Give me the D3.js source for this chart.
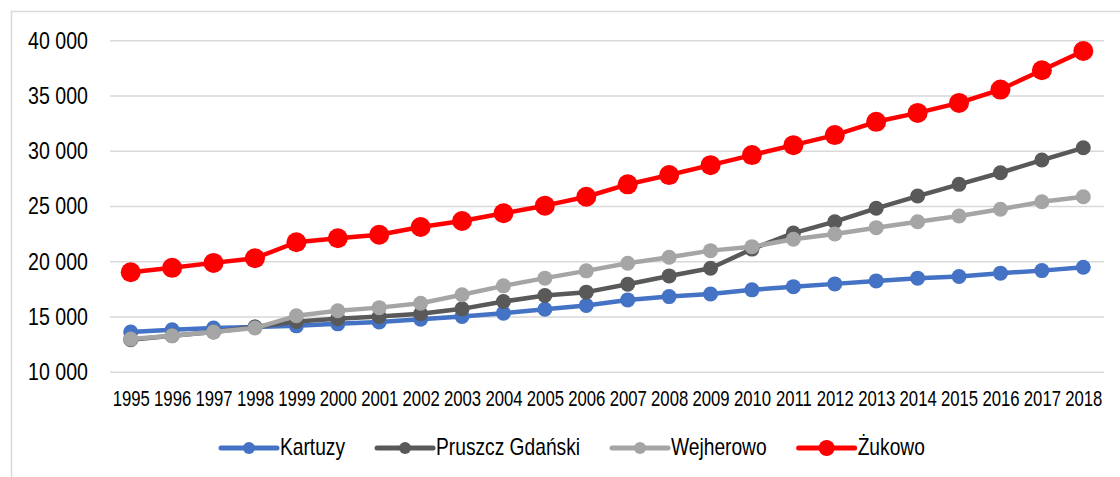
<!DOCTYPE html>
<html>
<head>
<meta charset="utf-8">
<script src="https://cdn.jsdelivr.net/npm/d3@7"></script>
<style>
body { margin: 0; background: #fff; }
svg { display: block; font-family: "Liberation Sans", Arial, sans-serif; }
</style>
</head>
<body>
<svg id="chart" width="1120" height="477"></svg>
<script>
var years = ["1995", "1996", "1997", "1998", "1999", "2000", "2001", "2002", "2003", "2004", "2005", "2006",
    "2007", "2008", "2009", "2010", "2011", "2012", "2013", "2014", "2015", "2016", "2017", "2018"];
var kartuzy = [13600, 13800, 13950, 14050, 14150, 14330, 14500, 14750, 15000, 15300, 15650, 16000,
    16500, 16800, 17030, 17410, 17700, 17950, 18220, 18470, 18620, 18920, 19150, 19460];
var pruszcz = [12900, 13250, 13600, 14050, 14550, 14800, 15000, 15250, 15690, 16350, 16900, 17200,
    17920, 18670, 19370, 21100, 22550, 23580, 24790, 25900, 26960, 28010, 29160, 30270];
var wejherowo = [12950, 13250, 13590, 13950, 15060, 15520, 15800, 16200, 16960, 17770, 18470, 19130,
    19820, 20360, 20960, 21320, 21990, 22470, 23040, 23580, 24100, 24700, 25390, 25840];
var zukowo = [19000, 19400, 19850, 20270, 21720, 22080, 22400, 23100, 23640, 24340, 25030, 25840,
    26960, 27800, 28700, 29610, 30510, 31420, 32620, 33430, 34330, 35540, 37290, 39030];
var seriesNames = ["Kartuzy", "Pruszcz Gdański", "Wejherowo", "Żukowo"];
var yTicks = [10000, 15000, 20000, 25000, 30000, 35000, 40000];

var COLORS = ["#4472C4", "#595959", "#A5A5A5", "#FF0000"];
var dotR = [7.5, 7.5, 7.5, 10];     // Żukowo has bigger markers
var legendR = [6, 6, 6, 8];

var W = 1120, H = 477;
var margin = {top: 40.3, right: 16, bottom: 105.3, left: 110},
    width = W - margin.left - margin.right,
    height = H - margin.top - margin.bottom;

var svg = d3.select("#chart");

// outer chart frame (only top/left edges fall inside the picture)
svg.append("rect")
    .attr("x", 11.5).attr("y", 11.5)
    .attr("width", W + 20).attr("height", H + 20)
    .attr("fill", "none")
    .attr("stroke", "#D9D9D9")
    .attr("stroke-width", 1.5);

var g = svg.append("g")
    .attr("transform", "translate(" + margin.left + "," + margin.top + ")");

var xScale = d3.scalePoint()
    .domain(years)
    .range([0, width])
    .padding(0.5);

var yScale = d3.scaleLinear()
    .domain([10000, 40000])
    .range([height, 0]);

var locale = d3.formatLocale({decimal: ",", thousands: " ", grouping: [3], currency: ["", ""]});
var fmt = locale.format(",");

// y axis + gridlines
var yAxis = g.append("g")
    .attr("class", "y axis")
    .call(d3.axisLeft(yScale).tickValues(yTicks).tickFormat(fmt).tickSize(-width).tickPadding(22));
yAxis.select(".domain").remove();
yAxis.selectAll(".tick line").attr("stroke", "#D9D9D9").attr("stroke-width", 1.5);
yAxis.selectAll(".tick text")
    .attr("fill", "#000")
    .style("font-size", "24.5px")
    .attr("x", -22 / 0.8)
    .attr("transform", "scale(0.8,1)");

// x axis (category labels only)
var xAxis = g.append("g")
    .attr("class", "x axis")
    .attr("transform", "translate(0," + height + ")")
    .call(d3.axisBottom(xScale).tickSize(0).tickPadding(18.3));
xAxis.select(".domain").remove();
xAxis.selectAll(".tick text")
    .attr("fill", "#000")
    .style("font-size", "22px")
    .attr("transform", "scale(0.76,1)");

var line = d3.line()
    .x(function (d, i) { return xScale(years[i]); })
    .y(function (d) { return yScale(d); });

var allSeries = [kartuzy, pruszcz, wejherowo, zukowo];

allSeries.forEach(function (vals, s) {
    var sg = g.append("g").attr("class", "series");
    sg.append("path")
        .datum(vals)
        .attr("fill", "none")
        .attr("stroke", COLORS[s])
        .attr("stroke-width", 4.5)
        .attr("stroke-linejoin", "round")
        .attr("d", line);
    sg.selectAll(".dot")
        .data(vals)
        .enter().append("circle")
        .attr("class", "dot")
        .attr("cx", function (d, i) { return xScale(years[i]); })
        .attr("cy", function (d) { return yScale(d); })
        .attr("r", dotR[s])
        .attr("fill", COLORS[s]);
});

// legend, laid out left to right from measured text widths
var legend = svg.append("g").attr("class", "legend");
var lx = 221, ly = 448;
seriesNames.forEach(function (name, s) {
    var item = legend.append("g").attr("transform", "translate(" + lx + "," + ly + ")");
    item.append("line")
        .attr("x1", 0).attr("x2", 56)
        .attr("stroke", COLORS[s])
        .attr("stroke-width", 5)
        .attr("stroke-linecap", "round");
    item.append("circle")
        .attr("cx", 28)
        .attr("r", legendR[s])
        .attr("fill", COLORS[s]);
    var t = item.append("text")
        .attr("transform", "translate(59,7) scale(0.8,1)")
        .style("font-size", "24px")
        .attr("fill", "#000")
        .text(name);
    lx += 59 + t.node().getComputedTextLength() * 0.8 + 32;
});
</script>
</body>
</html>
